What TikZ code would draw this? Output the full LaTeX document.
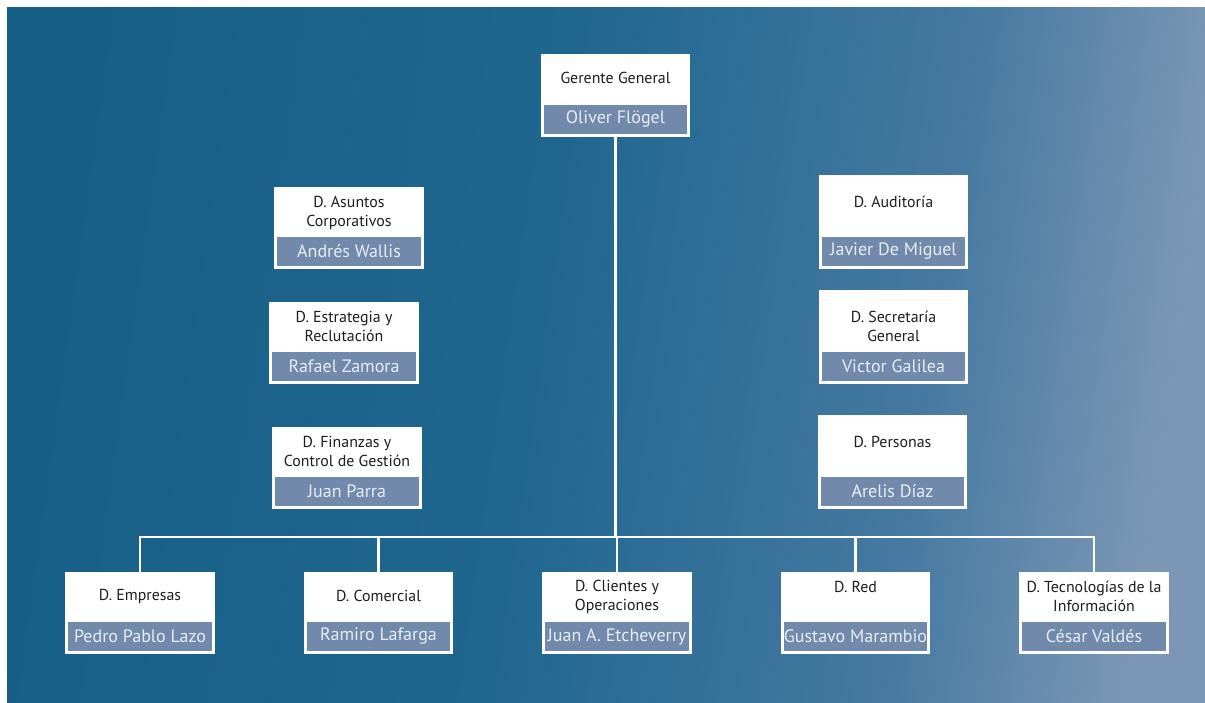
\documentclass[tikz,border=0pt]{standalone}
\usepackage{fontspec}
\setmainfont{PT Sans}
\usepackage{tikz}
\definecolor{bgdark}{HTML}{165F86}
\definecolor{bgmid}{HTML}{206790}
\definecolor{bgsoft}{HTML}{4579A1}
\definecolor{bglight}{HTML}{7C97B5}
\definecolor{stripc}{HTML}{7189AA}
\definecolor{ttlc}{HTML}{1E1E1E}
\definecolor{namec}{HTML}{E9EDF3}
\pgfdeclarehorizontalshading{bgshade}{100bp}{color(0bp)=(bgdark); color(25bp)=(bgdark); color(47bp)=(bgmid); color(64bp)=(bgsoft); color(75bp)=(bglight); color(100bp)=(bglight)}

\tikzset{
  box/.style={fill=white, inner sep=0, minimum width=3.725cm, minimum height=2.05cm},
  tallbox/.style={box, minimum height=2.325cm},
  strip/.style={fill=stripc, inner sep=0, anchor=south, minimum width=3.575cm, minimum height=0.725cm, text=namec, font=\fontsize{12.8}{14}\selectfont},
  ttl/.style={text=ttlc, align=center, inner sep=0, font=\fontsize{11.3}{13.5}\selectfont},
  link/.style={draw=white, line width=2pt}
}

\begin{document}
\begin{tikzpicture}[x=0.025cm, y=-0.025cm]
\useasboundingbox (0,0) rectangle (1205,703);
\shade[shading=bgshade, shading angle=-8] (7,8) rectangle (1205,703);

\node[box] (gg) at (615.5,95.5) {};
\node[strip] (gg-n) at ([yshift=0.075cm]gg.south) {Oliver Flögel};
\node[ttl] (gg-t) at (615.5,78) {Gerente General};

\node[box] (asu) at (349,228) {};
\node[strip] (asu-n) at ([yshift=0.075cm]asu.south) {Andrés Wallis};
\node[ttl] (asu-t) at (349,212.5) {D. Asuntos\\Corporativos};

\node[box] (est) at (344,343) {};
\node[strip] (est-n) at ([yshift=0.075cm]est.south) {Rafael Zamora};
\node[ttl] (est-t) at (344,326) {D. Estrategia y\\Reclutación};

\node[box] (fin) at (347,468) {};
\node[strip] (fin-n) at ([yshift=0.075cm]fin.south) {Juan Parra};
\node[ttl] (fin-t) at (347,451) {D. Finanzas y\\Control de Gestión};

\node[tallbox] (aud) at (893.5,222) {};
\node[strip] (aud-n) at ([yshift=0.075cm]aud.south) {Javier De Miguel};
\node[ttl] (aud-t) at (893.5,202) {D. Auditoría};

\node[tallbox] (sec) at (893.5,337) {};
\node[strip] (sec-n) at ([yshift=0.075cm]sec.south) {Victor Galilea};
\node[ttl] (sec-t) at (893.5,326) {D. Secretaría\\General};

\node[tallbox] (per) at (892.5,462) {};
\node[strip] (per-n) at ([yshift=0.075cm]per.south) {Arelis Díaz};
\node[ttl] (per-t) at (892.5,442) {D. Personas};

\node[box] (emp) at (140,613) {};
\node[strip] (emp-n) at ([yshift=0.075cm]emp.south) {Pedro Pablo Lazo};
\node[ttl] (emp-t) at (140,596) {D. Empresas};

\node[box] (com) at (378.5,613) {};
\node[strip] (com-n) at ([yshift=0.075cm]com.south) {Ramiro Lafarga};
\node[ttl] (com-t) at (378.5,596) {D. Comercial};

\node[box] (cli) at (617,613) {};
\node[strip] (cli-n) at ([yshift=0.075cm]cli.south) {Juan A. Etcheverry};
\node[ttl] (cli-t) at (617,596.5) {D. Clientes y\\Operaciones};

\node[box] (red) at (855.5,613) {};
\node[strip] (red-n) at ([yshift=0.075cm]red.south) {Gustavo Marambio};
\node[ttl] (red-t) at (855.5,587) {D. Red};

\node[box] (tec) at (1094,613) {};
\node[strip] (tec-n) at ([yshift=0.075cm]tec.south) {César Valdés};
\node[ttl] (tec-t) at (1094,596.5) {D. Tecnologías de la\\Información};

\coordinate (bus) at (616,537);
\draw[link] (gg.south) -- (gg.south |- bus);
\draw[link] (emp.north) -- (emp.north |- bus) -| (tec.north);
\draw[link] (com.north) -- (com.north |- bus);
\draw[link] (cli.north) -- (cli.north |- bus);
\draw[link] (red.north) -- (red.north |- bus);
\end{tikzpicture}
\end{document}
